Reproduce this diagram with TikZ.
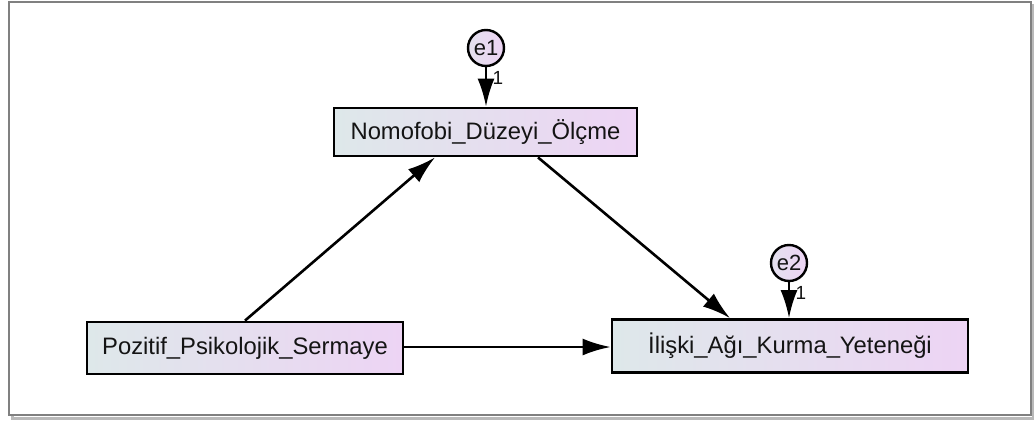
\documentclass[tikz,border=0pt]{standalone}
\usepackage{fontspec}
\setmainfont{Liberation Sans}
\usetikzlibrary{arrows.meta,shadings}
\definecolor{fillL}{RGB}{222,232,234}
\definecolor{fillR}{RGB}{237,212,244}
\definecolor{framegray}{RGB}{128,128,128}
\definecolor{shadowgray}{RGB}{185,185,185}
\definecolor{ink}{RGB}{20,20,20}
\newfontfamily\labelfont{Liberation Sans}
\tikzset{
  varbox/.style={draw=black, line width=2.8pt, rectangle, left color=fillL, right color=fillR,
    inner sep=0pt, text=ink, font=\fontsize{23.8}{28}\selectfont},
  errterm/.style={draw=black, line width=2.4pt, circle, left color=fillL!60!fillR, right color=fillR,
    minimum size=36pt, inner sep=0pt, text=ink, font=\fontsize{22}{24}\selectfont},
  regline/.style={draw=black, line width=2.6pt, -{Latex[length=28pt,width=17pt]}},
  weightlabel/.style={font=\labelfont\fontsize{19}{21}\selectfont, inner sep=0pt, text=ink}
}
\begin{document}
\begin{tikzpicture}[x=1pt,y=-1pt]
  \useasboundingbox (0,0) rectangle (1034,421);
  % framed canvas with a soft drop shadow
  \draw[shadowgray, line width=3pt] (12,5) rectangle (1033,418);
  \draw[framegray, line width=2pt, fill=white] (9,1.5) rectangle (1031,415);

  % observed variables
  \node[varbox, minimum width=303pt, minimum height=48pt] (nomo) at (485.5,132) {Nomofobi\_Düzeyi\_Ölçme};
  \node[varbox, minimum width=316pt, minimum height=52pt] (poz) at (245,348) {Pozitif\_Psikolojik\_Sermaye};
  \node[varbox, minimum width=356pt, minimum height=53pt] (ilis) at (790,346) {İlişki\_Ağı\_Kurma\_Yeteneği};

  % error terms
  \node[errterm] (e1) at (486,48) {e1};
  \node[errterm] (e2) at (789,263) {e2};

  % regression paths
  \draw[regline] (poz.north) -- ([xshift=-50.5pt]nomo.south);
  \draw[regline] ([xshift=52.5pt]nomo.south) -- ([xshift=-60pt]ilis.north);
  \draw[regline] (poz.east |- 0,347) -- (ilis.west |- 0,347);

  % error paths with fixed weights
  \draw[regline] (e1.south) -- (e1.south |- nomo.north);
  \draw[regline] (e2.south) -- (e2.south |- ilis.north);
  \node[weightlabel] (w1) at (498,78) {1};
  \node[weightlabel] (w2) at (801,293) {1};
\end{tikzpicture}
\end{document}
